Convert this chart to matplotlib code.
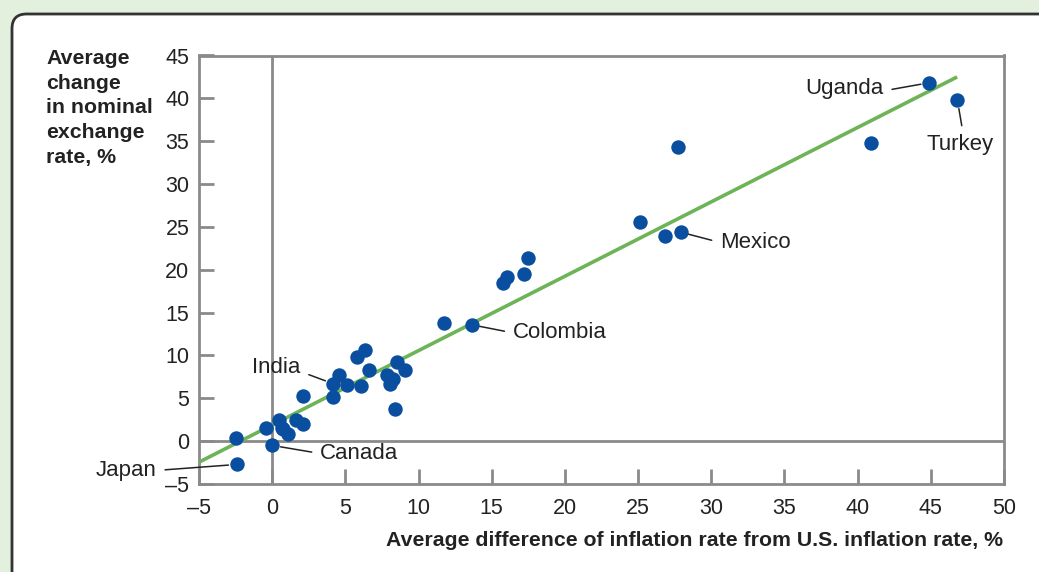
import matplotlib
matplotlib.use("Agg")
import matplotlib.pyplot as plt
from matplotlib.patches import FancyBboxPatch

plt.rcParams['font.family'] = ['Liberation Sans', 'DejaVu Sans']

# ---- data ----
inflation_diff = [-2.47, -2.42, 0.01, -0.42, 0.48, 0.76, 1.10, 1.63, 2.12, 0.69,
                  2.08, 4.17, 4.56, 4.17, 5.09, 6.05, 5.77, 6.34, 6.61, 7.82,
                  8.27, 8.05, 8.55, 9.07, 8.39, 11.73, 13.63, 15.79, 16.06, 17.20,
                  17.47, 25.12, 26.83, 27.90, 27.72, 44.88, 46.82, 40.88]
fx_change = [0.40, -2.72, -0.50, 1.52, 2.50, 1.45, 0.86, 2.42, 1.95, 1.56,
             5.25, 5.13, 7.67, 6.70, 6.50, 6.38, 9.80, 10.58, 8.25, 7.67,
             7.28, 6.62, 9.22, 8.25, 3.70, 13.82, 13.58, 18.44, 19.14, 19.49,
             21.35, 25.60, 23.89, 24.39, 34.27, 41.82, 39.76, 34.82]

trend_x = [-5.0, 46.8]
trend_y = [-2.45, 42.5]

# labelled countries: name, index of its point
labels = ["Japan", "Canada", "India", "Colombia", "Mexico", "Uganda", "Turkey"]
label_idx = [1, 2, 13, 26, 33, 35, 36]

xticks = list(range(-5, 51, 5))
yticks = list(range(-5, 46, 5))

x_title = "Average difference of inflation rate from U.S. inflation rate, %"
y_title = "Average\nchange\nin nominal\nexchange\nrate, %"

# ---- figure ----
W, H = 1039, 572
fig = plt.figure(figsize=(W / 100, H / 100), dpi=100)
fig.patch.set_facecolor('#e2f0dd')

panel = FancyBboxPatch((12 / W, -0.2), 1.2, 1 - 14 / H + 0.2,
                       boxstyle="round,pad=0,rounding_size=0.014",
                       transform=fig.transFigure, facecolor='white',
                       edgecolor='#333333', linewidth=2, zorder=-10,
                       mutation_aspect=W / H)
fig.patches.append(panel)

ax = fig.add_axes([199 / W, 1 - 484 / H, (1004 - 199) / W, (484 - 55.5) / H])
ax.set_zorder(1)
ax.set_facecolor('white')
ax.set_xlim(-5, 50)
ax.set_ylim(-5, 45)

axis_gray = '#8a8a8a'
for s in ax.spines.values():
    s.set_color(axis_gray)
    s.set_linewidth(2)

ax.axvline(0, color=axis_gray, lw=2, zorder=1)
ax.axhline(0, color=axis_gray, lw=2, zorder=1)

ax.set_xticks(xticks)
ax.set_yticks(yticks)
ax.tick_params(direction='in', length=11, width=2, color=axis_gray,
               labelsize=15.5, labelcolor='#222222', pad=7)
ax.tick_params(axis='x', pad=10)
ax.set_xticklabels([f"{t}".replace('-', '\u2013') for t in xticks])
ax.set_yticklabels([f"{t}".replace('-', '\u2013') for t in yticks])

ax.plot(trend_x, trend_y, color='#6db357', lw=2.6, zorder=3, solid_capstyle='butt')
ax.scatter(inflation_diff, fx_change, s=108, color='#0a4ea0', zorder=4, linewidths=0)

# annotation offsets (points) and alignment
offsets = {
    "Japan": ((-57.6, -4.3), 'right', 'center', (1.0, 0.5)),
    "Canada": ((34.3, -5.8), 'left', 'center', (0.0, 0.5)),
    "India": ((-23.3, 11.7), 'right', 'center', (1.0, 0.3)),
    "Colombia": ((29.5, -5.8), 'left', 'center', (0.0, 0.5)),
    "Mexico": ((28.3, -7.4), 'left', 'center', (0.0, 0.5)),
    "Uganda": ((-32.6, -4.3), 'right', 'center', (1.0, 0.4)),
    "Turkey": ((1.7, -31.7), 'center', 'center', (0.55, 1.0)),
}
for name, idx in zip(labels, label_idx):
    (dx, dy), ha, va, rp = offsets[name]
    ax.annotate(name, xy=(inflation_diff[idx], fx_change[idx]),
                xytext=(dx, dy), textcoords='offset points',
                ha=ha, va=va, fontsize=16, color='#222222', zorder=5,
                arrowprops=dict(arrowstyle='-', color='#222222', lw=1.1,
                                relpos=rp, shrinkA=4, shrinkB=6))

fig.text(46 / W, 1 - 49 / H, y_title, ha='left', va='top', fontsize=15.3,
         fontweight='bold', color='#222222', linespacing=1.38)
fig.text(1003 / W, 1 - 540 / H, x_title, ha='right', va='center', fontsize=15.3,
         fontweight='bold', color='#222222')

fig.savefig("out.png", dpi=100, facecolor=fig.get_facecolor())
